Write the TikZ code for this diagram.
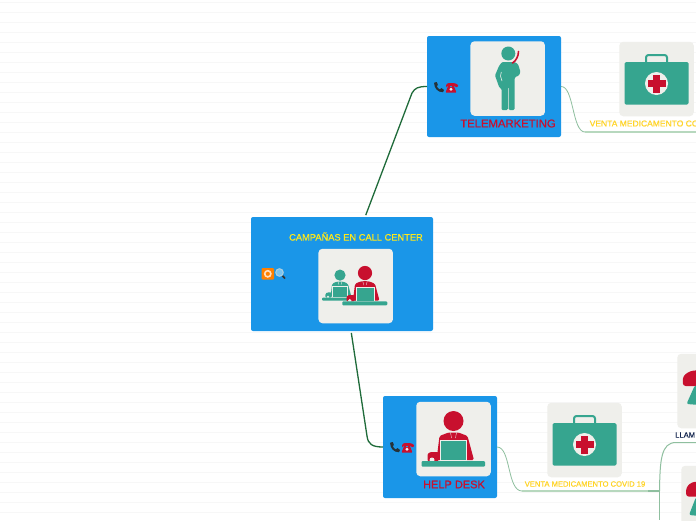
\documentclass[tikz,border=0pt]{standalone}
\usepackage{fontspec}
\setmainfont[FakeBold=0.6]{Liberation Sans}
\definecolor{boxblue}{HTML}{1A96E8}
\definecolor{cardgrey}{HTML}{EFEFEB}
\definecolor{teal2}{HTML}{36A58F}
\definecolor{crim}{HTML}{C8102E}
\definecolor{ylw}{HTML}{FFE81A}
\definecolor{ylw2}{HTML}{FFD426}
\definecolor{navy2}{HTML}{14264F}
\definecolor{dgreen}{HTML}{1F6B3A}
\definecolor{lgreen}{HTML}{8FBF9F}
\definecolor{lgreen2}{HTML}{B7D8BE}
\definecolor{bgline}{HTML}{F7F7F7}
\definecolor{darkphone}{HTML}{263238}
\tikzset{
  bluebox/.style={rectangle,fill=boxblue,rounded corners=2pt,inner sep=0pt,outer sep=0pt},
  card/.style={rectangle,fill=cardgrey,rounded corners=4pt,minimum width=74.5pt,minimum height=74.5pt,inner sep=0pt,outer sep=0pt},
  strong/.style={dgreen,line width=1.3pt},
  thin link/.style={lgreen,line width=.8pt},
  thick link/.style={lgreen2,line width=1.6pt},
  redlabel/.style={text=crim,inner sep=0pt},
  ylabel/.style={text=ylw2,font=\fontsize{7.6}{10}\selectfont,inner sep=0pt},
}
\newcommand{\medkit}[2]{\begin{scope}[shift={(#1,#2)}]
  \draw[teal2,line width=2pt,rounded corners=2.5pt] (-10.5,-16) -- (-10.5,-24) -- (10.5,-24) -- (10.5,-16);
  \fill[teal2,rounded corners=1.5pt] (-32,-17) rectangle (32,25.7);
  \fill[cardgrey] (0,4.5) circle (11.5);
  \fill[crim] (-9,1.3) rectangle (9,7.7);
  \fill[crim] (-3.2,-4.5) rectangle (3.2,13.5);
\end{scope}}
\newcommand{\deskperson}[5]{\begin{scope}[shift={(#1,#2)},scale=#3]
  \fill[#4] (0,-18) circle (10);
  \fill[#4,rounded corners=1.5pt] (-17,21) -- (-14,-3) -- (-5,-6.5) -- (5,-6.5) -- (14,-3) -- (20.5,21) -- cycle;
  \fill[#4,rounded corners=1pt] (-26,22) -- (-26,15) -- (-23,13) -- (-15,13) -- (-15,22) -- cycle;
  \fill[cardgrey] (-21.5,21) circle (2.5);
  \draw[cardgrey,line width=.35pt] (-3,-6.5) -- (-2,-1) (3,-6.5) -- (2,-1);
  \fill[#5,draw=cardgrey,line width=.5pt] (-13,1.7) rectangle (13,21.5);
  \fill[#5,rounded corners=1pt] (-32,22) rectangle (31.5,27.5);
\end{scope}}
\newcommand{\phones}[2]{\begin{scope}[shift={(#1,#2)}]
  \draw[darkphone,line width=2pt] (1.2,1) .. controls (1,5) and (4,9.5) .. (9,9.2);
  \fill[darkphone] (0,.8) -- (2.8,0) -- (4,3.2) -- (2,4.2) -- cycle;
  \fill[darkphone] (5.8,7.6) -- (7.4,6) -- (10,8) -- (9,10.2) -- cycle;
  \fill[crim,rounded corners=.8pt] (14.5,3) -- (19.5,3) -- (22.5,10.6) -- (11.5,10.6) -- cycle;
  \fill[crim,rounded corners=1pt] (14,1) -- (20,1) -- (24,2.5) -- (24,5) -- (21,5) -- (20,3.5) -- (14,3.5) -- (13,5) -- (12,5) -- (12,2.5) -- cycle;
  \fill[boxblue] (16,4.3) rectangle (18,4.8);
  \fill[cardgrey] (17,7.2) circle (1.6);
\end{scope}}
\begin{document}
\begin{tikzpicture}[x=1pt,y=-1pt]
\useasboundingbox (0,0) rectangle (696,520);
\clip (0,0) rectangle (696,520);
\fill[white] (0,0) rectangle (696,520);
\foreach \k in {0,...,51} {\draw[bgline,line width=.9pt] (0,2.5+10*\k) -- (696,2.5+10*\k);}

% boxes
\node[bluebox,minimum width=182pt,minimum height=114pt] (main) at (342,274) {};
\node[bluebox,minimum width=134pt,minimum height=101pt] (tele) at (494,86.5) {};
\node[bluebox,minimum width=114pt,minimum height=102pt] (help) at (440,447) {};

% coordinates for free ends and the fork
\coordinate (teleend) at (696,132);
\coordinate (fork) at (659.5,491);
\coordinate (upperend) at (696,442.5);
\coordinate (lowerend) at (659.5,520);

% connectors
\draw[strong,shorten <=2pt] (main.68) -- (412,93) .. controls (415,88) and (418,86.5) .. (tele.west);
\draw[strong,shorten <=2pt] (main.-81) -- (367,436) .. controls (368,444) and (372,447) .. (help.west);
\draw[thin link] (tele.east) .. controls (574,86) and (572,132) .. (585,132);
\draw[thick link] (585,132) -- (teleend);
\draw[thin link] (help.east) .. controls (511,447) and (507,491) .. (522,491);
\draw[thick link] (522,491) -- (648,491);
\draw[lgreen,line width=1.6pt] (648,491) -- (fork);
\draw[thin link,line width=1pt] (fork) .. controls (660,460) and (661,442.5) .. (676,442.5) -- (upperend);
\draw[thin link,line width=1pt] (fork) -- (lowerend);

% cards
\node[card] (maincard) at (355.7,286) {};
\node[card] (telecard) at (507.7,78.5) {};
\node[card] (helpcard) at (453.5,439) {};
\node[card] (kita) at (656.5,79) {};
\node[card] (kitb) at (584.5,440) {};
\node[card] (upcard) at (714.5,391) {};
\node[card] (downcard) at (718.5,503) {};

% card pictures
\medkit{656.5}{79}
\medkit{584.5}{440}
\deskperson{340}{285.2}{0.56}{teal2}{teal2}
\deskperson{365}{285.8}{0.71}{crim}{teal2}
\deskperson{453.5}{439}{1}{crim}{teal2}

% telephone man
\fill[teal2] (508.3,53.5) circle (7);
\fill[teal2,rounded corners=1.2pt] (502,62) -- (514.5,62) -- (518,64) -- (520.5,72) -- (518.5,76) -- (514.8,77) -- (514.5,86) -- (514.5,110) -- (508.7,110) -- (508.7,87) -- (507.8,87) -- (507.8,110) -- (501.5,110) -- (501.5,88.5) -- (499.5,88) -- (495,75.5) -- (499,66) -- cycle;
\draw[cardgrey,line width=.6pt] (501.3,72) -- (500.5,76) -- (502,81);
\draw[crim,line width=1.6pt,line cap=round] (518.5,51.5) .. controls (518.5,56) and (516,61) .. (512.5,63);

% partial figures at the right edge
\fill[crim,rounded corners=3pt] (682.7,386) -- (683,376) -- (690,371) -- (700,370) -- (700,386) -- cycle;
\fill[teal2,rounded corners=2pt] (686.5,404) -- (695,385) -- (700,385) -- (700,405) -- cycle;
\fill[crim,rounded corners=3pt] (686,496.7) -- (686.3,487) -- (692,482) -- (700,481.5) -- (700,496.7) -- cycle;
\fill[teal2,rounded corners=2pt] (689,515) -- (696,497) -- (700,497) -- (700,516) -- cycle;

% small icons
\phones{434}{82}
\phones{390}{442}
\fill[orange,rounded corners=1pt] (261.7,268) rectangle (274,279.5);
\draw[white!75!orange,line width=1.6pt] (267.8,273.8) circle (3.1);
\draw[gray!60!cyan!50!white,line width=1pt] (279.5,272.5) circle (3.8);
\fill[cyan!15!white,opacity=.5] (279.5,272.5) circle (3.3);
\draw[black!80,line width=1.7pt] (282.5,275.8) -- (285,278.5);

% labels
\node[text=ylw,font=\fontsize{9.3}{12}\selectfont,inner sep=0pt] (maintxt) at (356,236.5) {CAMPAÑAS EN CALL CENTER};
\node[redlabel,font=\fontsize{11.3}{14}\selectfont] (teletxt) at (508,123.5) {TELEMARKETING};
\node[redlabel,font=\fontsize{11}{14}\selectfont] (helptxt) at (454,484.5) {HELP DESK};
\node[ylabel,anchor=west,font=\fontsize{8.5}{10}\selectfont] (kitatxt) at (589.5,123.5) {VENTA MEDICAMENTO CO};
\node[ylabel] (kitbtxt) at (585,484) {VENTA MEDICAMENTO COVID 19};
\node[anchor=west,text=navy2,font=\fontsize{7.6}{9}\selectfont,inner sep=0pt] (lltxt) at (675,435) {LLAM};
\end{tikzpicture}
\end{document}
